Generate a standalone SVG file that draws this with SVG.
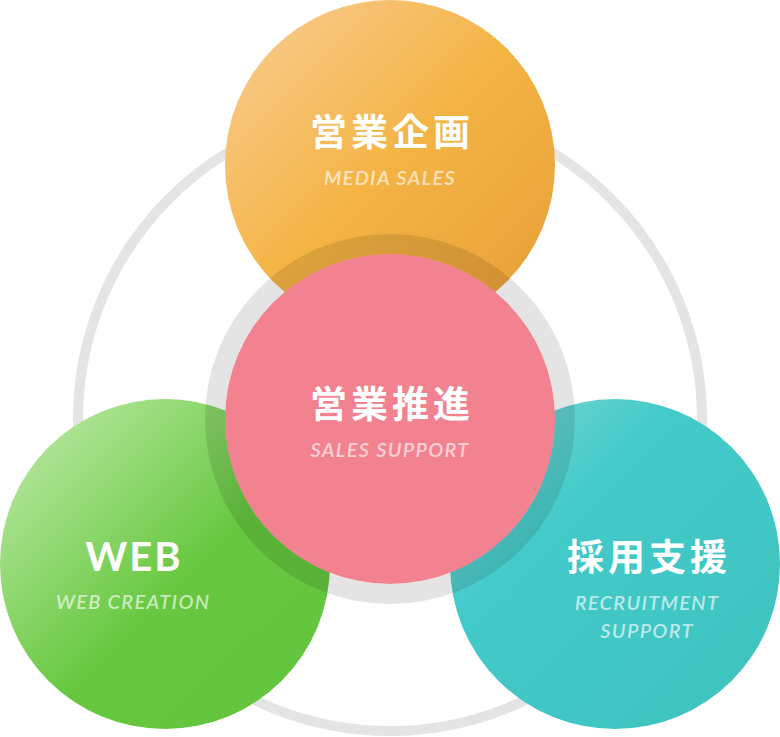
<svg xmlns="http://www.w3.org/2000/svg" width="780" height="737" viewBox="0 0 780 737">
<defs>
<linearGradient id="gOrange" x1="0" y1="0" x2="1" y2="1">
<stop offset="0.1" stop-color="#f8c886"/>
<stop offset="0.5" stop-color="#f4b444"/>
<stop offset="0.9" stop-color="#e9a13a"/>
</linearGradient>
<linearGradient id="gGreen" x1="0" y1="0" x2="1" y2="1">
<stop offset="0.1" stop-color="#b4e69b"/>
<stop offset="0.55" stop-color="#67c840"/>
<stop offset="1" stop-color="#62c33c"/>
</linearGradient>
<linearGradient id="gTeal" x1="0" y1="0" x2="1" y2="1">
<stop offset="0.1" stop-color="#74d6d0"/>
<stop offset="0.35" stop-color="#42caca"/>
<stop offset="1" stop-color="#3ec2bd"/>
</linearGradient>
</defs>
<style>
.jp{font-family:"Noto Sans CJK JP","Noto Sans",sans-serif;font-weight:700;font-size:37px;fill:#ffffff;text-anchor:middle;letter-spacing:4px}
.en{font-family:Lato,"Liberation Sans",sans-serif;font-weight:700;font-size:40px;fill:#ffffff;text-anchor:middle;letter-spacing:2px}
.sub{font-family:Lato,"Liberation Sans",sans-serif;font-style:italic;font-weight:600;font-size:20px;fill:#ffffff;fill-opacity:0.65;text-anchor:middle;letter-spacing:1.3px}
</style>
<g id="connectors">
<circle cx="390" cy="419" r="312" fill="none" stroke="#e4e4e4" stroke-width="10"/>
</g>
<g id="media-sales">
<circle cx="390" cy="165" r="165" fill="url(#gOrange)"/>
<text class="jp" x="392" y="146">営業企画</text>
<text class="sub" x="390" y="185">MEDIA SALES</text>
</g>
<g id="web-creation">
<circle cx="165" cy="564" r="165" fill="url(#gGreen)"/>
<text class="en" x="134" y="571">WEB</text>
<text class="sub" x="133" y="609">WEB CREATION</text>
</g>
<g id="recruitment-support">
<circle cx="615" cy="564" r="165" fill="url(#gTeal)"/>
<text class="jp" x="649" y="571">採用支援</text>
<text class="sub" x="647" y="610">RECRUITMENT</text>
<text class="sub" x="647" y="638">SUPPORT</text>
</g>
<g id="sales-support">
<circle cx="390" cy="419" r="175" fill="none" stroke="#000000" stroke-opacity="0.105" stroke-width="20"/>
<circle cx="390" cy="419" r="165" fill="#f2828f"/>
<text class="jp" x="392" y="418">営業推進</text>
<text class="sub" x="390" y="457">SALES SUPPORT</text>
</g>
</svg>
